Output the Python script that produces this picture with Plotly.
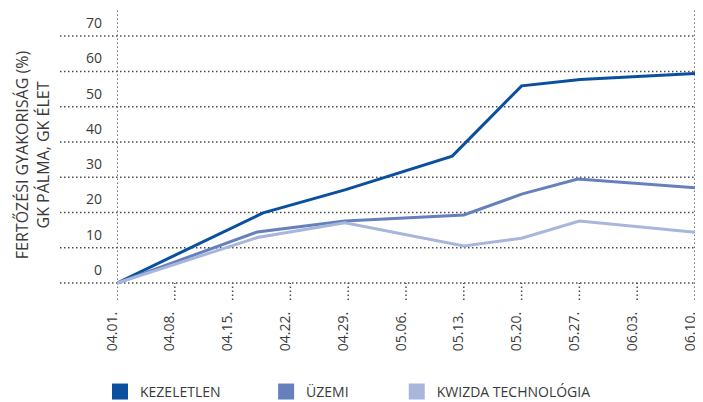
import plotly.graph_objects as go

# ---- data ----
tick_days = [0, 7, 14, 21, 28, 35, 42, 49, 56, 63, 70]
tick_labels = ["04.01.", "04.08.", "04.15.", "04.22.", "04.29.", "05.06.",
               "05.13.", "05.20.", "05.27.", "06.03.", "06.10."]
y_ticks = [0, 10, 20, 30, 40, 50, 60, 70]

series_names = ["KEZELETLEN", "ÜZEMI", "KWIZDA TECHNOLÓGIA"]
days_kez = [0, 17.7, 27.6, 40.6, 49.0, 56.1, 70]
vals_kez = [0, 19.9, 26.4, 36.0, 55.9, 57.7, 59.4]
days_uz = [0, 17.0, 27.6, 42.0, 49.0, 55.8, 70]
vals_uz = [0, 14.5, 17.6, 19.3, 25.2, 29.5, 27.0]
days_kw = [0, 17.0, 27.6, 42.0, 49.0, 56.0, 70]
vals_kw = [0, 12.9, 17.1, 10.5, 12.7, 17.6, 14.4]

colors = ["#0a509e", "#6580bc", "#a8b6dc"]
FONT = "Open Sans"
TXT = "#3a3a3a"
DOT = "#4a4a4a"
Y_MIN, Y_MAX = -4.8, 77.4

fig = go.Figure()
for xs, ys, name, c in [(days_kez, vals_kez, series_names[0], colors[0]),
                        (days_uz, vals_uz, series_names[1], colors[1]),
                        (days_kw, vals_kw, series_names[2], colors[2])]:
    fig.add_trace(go.Scatter(x=xs, y=ys, mode="lines", name=name,
                             line=dict(color=c, width=3), showlegend=False,
                             hoverinfo="x+y"))

legend_ids = ["legend", "legend2", "legend3"]
for name, c, lid in zip(series_names, colors, legend_ids):
    fig.add_trace(go.Scatter(x=[None], y=[None], mode="markers", name=name,
                             marker=dict(symbol="square", size=20, color=c),
                             legend=lid, showlegend=True))

shapes = []
# horizontal dotted gridlines, extending left under the labels
for v in y_ticks:
    shapes.append(dict(type="line", xref="paper", yref="y", x0=-0.0986, x1=1,
                       y0=v, y1=v, layer="below",
                       line=dict(color=DOT, width=1.5, dash="1.5px,2.5px")))
# left and right full-height dotted verticals
for d in (tick_days[0], tick_days[-1]):
    shapes.append(dict(type="line", xref="x", yref="paper", x0=d, x1=d,
                       y0=0, y1=1, layer="below",
                       line=dict(color=DOT, width=1.5, dash="1.5px,2.5px")))
# interior dotted tick marks below the zero line
for d in tick_days[1:-1]:
    shapes.append(dict(type="line", xref="x", yref="y", x0=d, x1=d,
                       y0=Y_MIN, y1=0, layer="below",
                       line=dict(color=DOT, width=1.5, dash="1.5px,2.5px")))

legend_x = [-0.0294, 0.258, 0.484]
legend_cfg = {}
for lid, lx in zip(legend_ids, legend_x):
    legend_cfg[lid] = dict(orientation="h", x=lx, y=-0.317, xanchor="left",
                           yanchor="middle", bgcolor="rgba(0,0,0,0)",
                           font=dict(family=FONT, size=14, color=TXT),
                           itemsizing="trace")

# the page body adds an 8px offset, so the figure is 8px smaller
fig.update_layout(
    width=695, height=394,
    margin=dict(l=109, r=8, t=2, b=102, autoexpand=False),
    paper_bgcolor="white", plot_bgcolor="white",
    font=dict(family=FONT, size=14, color=TXT),
    shapes=shapes,
    xaxis=dict(range=[0, 70], tickvals=tick_days, ticktext=tick_labels,
               tickangle=-90, showgrid=False, zeroline=False, showline=False,
               ticks="", ticklabelstandoff=8, ticklabelshift=-5,
               automargin=False, ticklabeloverflow="allow",
               tickfont=dict(family=FONT, size=14, color=TXT)),
    yaxis=dict(range=[Y_MIN, Y_MAX], tickvals=y_ticks,
               ticktext=[str(v) for v in y_ticks],
               showgrid=False, zeroline=False, showline=False, ticks="",
               ticklabelshift=-13, ticklabelstandoff=14, automargin=False,
               tickfont=dict(family=FONT, size=14, color=TXT),
               title=dict(text="FERTŐZÉSI GYAKORISÁG (%)<br>GK PÁLMA, GK ÉLET",
                          standoff=32,
                          font=dict(family=FONT, size=16, color=TXT))),
    **legend_cfg,
)

fig.write_html("out.html")
